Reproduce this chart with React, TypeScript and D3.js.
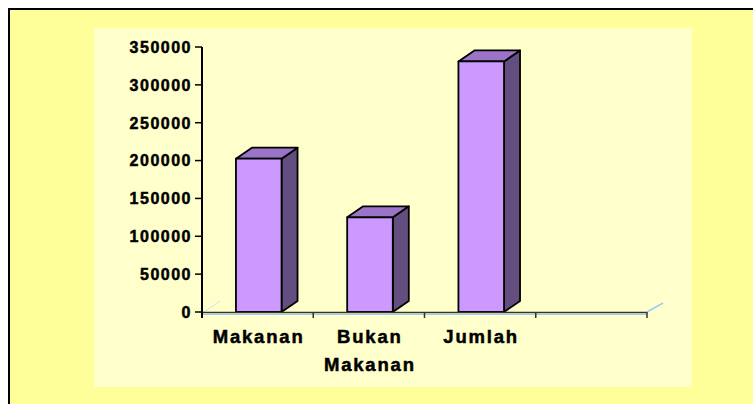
import React, { useEffect } from "react";
import * as d3 from "d3";

const categories = ["Makanan", "Bukan Makanan", "Jumlah", ""];
const values = [202500, 125000, 331000];
const yTickValues = [0, 50000, 100000, 150000, 200000, 250000, 300000, 350000];

const W = 753;
const H = 404;
const plot = { left: 202, right: 647, top: 47, bottom: 312 };
const depth = { dx: 16, dy: -11 };

export default function App() {
  useEffect(() => {
    document.body.style.margin = "0";
    document.body.style.overflow = "hidden";
    document.documentElement.style.overflow = "hidden";
  }, []);
  const y = d3.scaleLinear().domain([0, 350000]).range([plot.bottom, plot.top]);
  const x = d3.scaleBand<string>().domain(categories.map((c, i) => c + "#" + i)).range([plot.left, plot.right]).padding(0);
  const bw = x.bandwidth();
  const fmt = d3.format("d");
  const font = "Arial, 'Liberation Sans', sans-serif";

  return (
    <svg width={W} height={H} style={{ display: "block", position: "fixed", left: 0, top: 0, overflow: "hidden" }}>
      <rect x={0} y={0} width={W} height={H} fill="#ffffff" />
      <rect x={9} y={9} width={W - 9} height={H - 9} fill="#FFFF99" />
      <path d={`M9,${H} L9,9 L${W},9`} fill="none" stroke="#000" strokeWidth={2} />
      <rect x={94} y={28} width={598} height={359} fill="#FFFFCC" />

      {/* floor depth edges */}
      <line x1={plot.left + 2} y1={plot.bottom} x2={plot.left + 2 + depth.dx} y2={plot.bottom + depth.dy} stroke="#cfe0f0" strokeWidth={1} />
      <line x1={plot.right} y1={plot.bottom} x2={plot.right + depth.dx} y2={plot.bottom + depth.dy + 2} stroke="#99CCFF" strokeWidth={1.5} />

      {/* bars */}
      {values.map((v, i) => {
        const bx = (x(categories[i] + "#" + i) as number) + bw * 0.305;
        const w = bw * 0.41;
        const top = y(v);
        const bot = y(0);
        const { dx, dy } = depth;
        const topFace = `M${bx},${top} L${bx + dx},${top + dy} L${bx + w + dx},${top + dy} L${bx + w},${top} Z`;
        const sideFace = `M${bx + w},${top} L${bx + w + dx},${top + dy} L${bx + w + dx},${bot + dy} L${bx + w},${bot} Z`;
        return (
          <g key={i} stroke="#000" strokeWidth={1.8} strokeLinejoin="round">
            <path d={sideFace} fill="#634E7F" />
            <path d={topFace} fill="#9B74C8" />
            <rect x={bx} y={top} width={w} height={bot - top} fill="#CC99FF" />
          </g>
        );
      })}

      {/* x axis */}
      <line x1={plot.left} y1={plot.bottom + 2.5} x2={plot.right} y2={plot.bottom + 2.5} stroke="#99CCFF" strokeWidth={1.2} />
      <line x1={plot.left} y1={plot.bottom + 0.5} x2={plot.right} y2={plot.bottom + 0.5} stroke="#333" strokeWidth={1.5} />
      {categories.map((c, i) => {
        const bx = x(c + "#" + i) as number;
        return <line key={"t" + i} x1={bx} y1={plot.bottom} x2={bx} y2={plot.bottom + 6} stroke="#333" strokeWidth={1.5} />;
      })}
      <line x1={plot.right} y1={plot.bottom} x2={plot.right} y2={plot.bottom + 6} stroke="#333" strokeWidth={1.5} />

      {/* y axis */}
      <line x1={plot.left} y1={plot.top} x2={plot.left} y2={plot.bottom + 6} stroke="#000" strokeWidth={2} />
      {yTickValues.map((t) => (
        <g key={t}>
          <line x1={plot.left - 7} y1={y(t)} x2={plot.left} y2={y(t)} stroke="#000" strokeWidth={1.5} />
          <text x={plot.left - 10} y={y(t) + 5.8} textAnchor="end" fontFamily={font} fontWeight={700} fontSize={16} letterSpacing={1.5} fill="#000" stroke="#000" strokeWidth={0.5}>
            {fmt(t)}
          </text>
        </g>
      ))}

      {/* x labels */}
      {categories.map((c, i) => {
        if (!c) return null;
        const cx = (x(c + "#" + i) as number) + bw / 2;
        const lines = c.split(" ");
        return (
          <text key={"l" + i} textAnchor="middle" fontFamily={font} fontWeight={700} fontSize={18.5} letterSpacing={1.8} fill="#000" stroke="#000" strokeWidth={0.5}>
            {lines.map((ln, j) => (
              <tspan key={j} x={cx + 1} y={343 + j * 28}>
                {ln}
              </tspan>
            ))}
          </text>
        );
      })}
    </svg>
  );
}
